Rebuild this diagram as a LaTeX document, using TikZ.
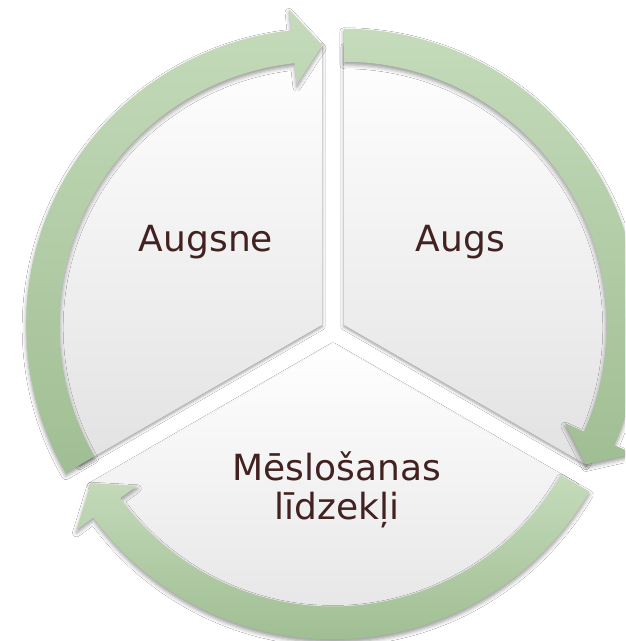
\documentclass[tikz,border=0pt]{standalone}
\usepackage{fontspec}
\setmainfont{DejaVu Sans}
\usetikzlibrary{shadows.blur}
\definecolor{txt}{RGB}{66,33,33}
\definecolor{gtop}{RGB}{197,219,187}
\definecolor{gbot}{RGB}{160,190,147}
\definecolor{sbot}{RGB}{226,226,226}
\tikzset{
  sector/.style={top color=white, bottom color=sbot, draw=none,
    blur shadow={shadow xshift=0pt, shadow yshift=-2pt, shadow blur radius=3pt, shadow opacity=40}},
  cyclearrow/.style={top color=gtop, bottom color=gbot, draw=none,
    blur shadow={shadow xshift=0pt, shadow yshift=-3pt, shadow blur radius=4pt, shadow opacity=40}},
  lbl/.style={text=txt, font=\fontsize{36}{40}\selectfont, align=center, inner sep=0pt}
}
\begin{document}
\begin{tikzpicture}
\useasboundingbox (0,0) rectangle (625pt,641pt);
\fill[white] (0,0) rectangle (625pt,641pt);
\clip (0,0) rectangle (625pt,641pt);
\coordinate (cL) at (322.2pt,316.25pt);
\coordinate (cR) at (343.8pt,316.25pt);
\coordinate (cB) at (333pt,297.5pt);
% sectors
\begin{scope}[shift={(cL)}]
  \path[sector] (0,0) -- (90:280pt) arc[start angle=90, end angle=210, radius=280pt] -- cycle;
\end{scope}
\begin{scope}[shift={(cR)}]
  \path[sector] (0,0) -- (-30:280pt) arc[start angle=-30, end angle=90, radius=280pt] -- cycle;
\end{scope}
\begin{scope}[shift={(cB)}]
  \path[sector] (0,0) -- (210:280pt) arc[start angle=210, end angle=330, radius=280pt] -- cycle;
\end{scope}
% arrows
\begin{scope}[shift={(cL)}]
  \path[cyclearrow] (210:296pt) arc[start angle=210, end angle=96, radius=296pt]
    -- (96:317pt) -- (90:279.5pt) -- (96:242pt) -- (96:263pt)
    arc[start angle=96, end angle=210, radius=263pt] -- cycle;
\end{scope}
\begin{scope}[shift={(cR)}]
  \path[cyclearrow] (90:296pt) arc[start angle=90, end angle=-24, radius=296pt]
    -- (-24:317pt) -- (-30:279.5pt) -- (-24:242pt) -- (-24:263pt)
    arc[start angle=-24, end angle=90, radius=263pt] -- cycle;
\end{scope}
\begin{scope}[shift={(cB)}]
  \path[cyclearrow] (-30:296pt) arc[start angle=-30, end angle=-144, radius=296pt]
    -- (-144:317pt) -- (-150:279.5pt) -- (-144:242pt) -- (-144:263pt)
    arc[start angle=-144, end angle=-30, radius=263pt] -- cycle;
\end{scope}
% labels
\node[lbl, anchor=base] (augsne) at (206pt,389pt) {Augsne};
\node[lbl, anchor=base] (augs) at (460.5pt,389pt) {Augs};
\node[lbl, anchor=base] (meslo) at (337pt,121pt) {Mēslošanas\\līdzekļi};
\end{tikzpicture}
\end{document}
